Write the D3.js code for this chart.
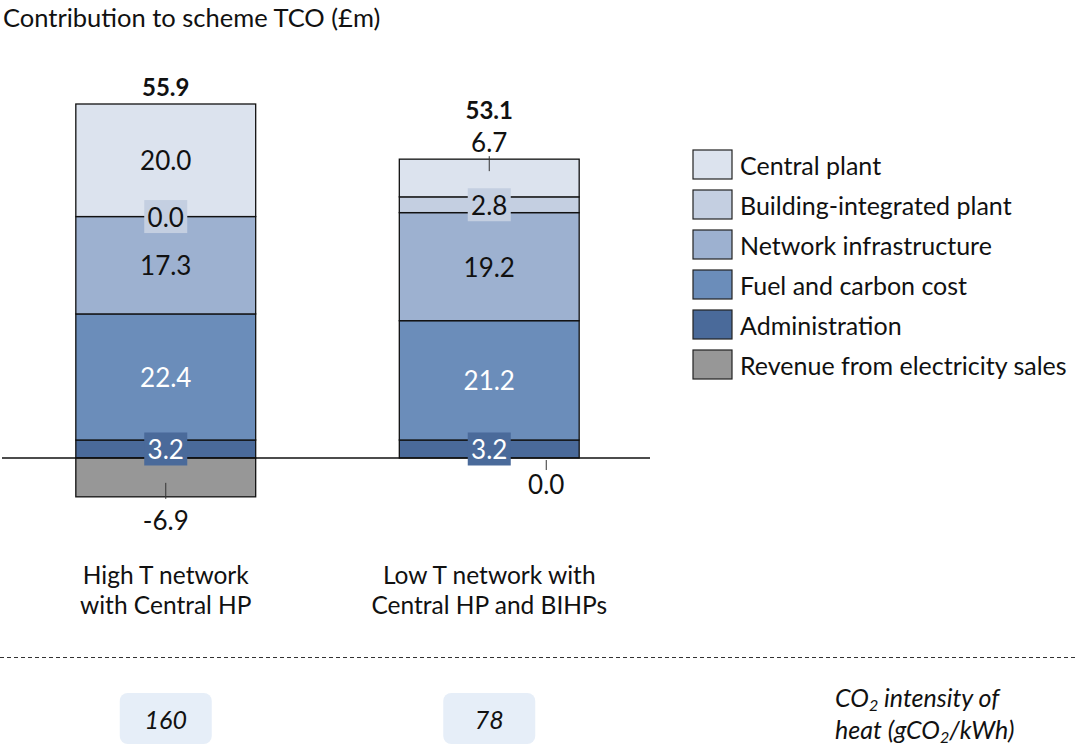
<!DOCTYPE html>
<html>
<head>
<meta charset="utf-8">
<script src="https://cdn.jsdelivr.net/npm/d3@7"></script>
<style>
  html, body { margin: 0; padding: 0; background: #fff; }
  svg { display: block; font-family: Lato, "Open Sans", sans-serif; }
</style>
</head>
<body>
<svg id="chart" width="1075" height="749"></svg>
<script>
// ---- Data ----
const categories = ["High T network with Central HP", "Low T network with Central HP and BIHPs"];
const categoryLines = [["High T network", "with Central HP"], ["Low T network with", "Central HP and BIHPs"]];
const seriesNames = ["Central plant", "Building-integrated plant", "Network infrastructure", "Fuel and carbon cost", "Administration", "Revenue from electricity sales"];
const centralPlant = [20.0, 6.7];
const buildingPlant = [0.0, 2.8];
const networkInfra = [17.3, 19.2];
const fuelCarbon = [22.4, 21.2];
const administration = [3.2, 3.2];
const revenue = [-6.9, 0.0];
const totals = [55.9, 53.1];
const co2Intensity = [160, 78];

// stacking order from the baseline upward
const stackOrder = [
  { name: "Administration", values: administration },
  { name: "Fuel and carbon cost", values: fuelCarbon },
  { name: "Network infrastructure", values: networkInfra },
  { name: "Building-integrated plant", values: buildingPlant },
  { name: "Central plant", values: centralPlant }
];

const colors = {
  "Central plant": "#DCE3EE",
  "Building-integrated plant": "#C4CFE1",
  "Network infrastructure": "#9DB1D0",
  "Fuel and carbon cost": "#6B8DBA",
  "Administration": "#4A6A9A",
  "Revenue from electricity sales": "#979797"
};
const whiteText = new Set(["Fuel and carbon cost", "Administration"]);
const boxedLabel = new Set(["Building-integrated plant", "Administration"]);

const svg = d3.select("#chart");

const x = d3.scaleBand().domain(categories).range([4, 651]).paddingInner(0.444).paddingOuter(0.222);
const y = d3.scaleLinear().domain([-10, 65]).range([458 + 10 * 5.628, 458 - 65 * 5.628]);

const fs = 26;

// title
svg.append("text").attr("x", 3).attr("y", 27).attr("font-size", 25.5).attr("fill", "#111")
  .text("Contribution to scheme TCO (£m)");

// build segments
const segs = [];
categories.forEach((c, i) => {
  let base = 0;
  stackOrder.forEach(s => {
    const v = s.values[i];
    segs.push({ cat: c, i, name: s.name, v, y0: base, y1: base + v });
    base += v;
  });
  segs.push({ cat: c, i, name: "Revenue from electricity sales", v: revenue[i], y0: 0, y1: revenue[i] });
});

const g = svg.append("g");
g.selectAll("rect.seg").data(segs).join("rect")
  .attr("class", "seg")
  .attr("x", d => x(d.cat))
  .attr("width", x.bandwidth())
  .attr("y", d => y(Math.max(d.y0, d.y1)))
  .attr("height", d => Math.abs(y(d.y0) - y(d.y1)))
  .attr("fill", d => colors[d.name])
  .attr("stroke", "#111").attr("stroke-width", 1.3);

// zero axis line
svg.append("line").attr("x1", 2).attr("x2", 650).attr("y1", y(0)).attr("y2", y(0))
  .attr("stroke", "#111").attr("stroke-width", 1.3);

// segment labels
segs.forEach(d => {
  const cx = x(d.cat) + x.bandwidth() / 2;
  const hpx = Math.abs(y(d.y0) - y(d.y1));
  const txt = d.v.toFixed(1);
  if (d.name === "Revenue from electricity sales") {
    const lx = d.v === 0 ? cx + 57 : cx;
    const ty = y(d.y1);
    svg.append("line").attr("x1", lx).attr("x2", lx)
      .attr("y1", d.v === 0 ? y(0) + 2 : ty - 14).attr("y2", d.v === 0 ? y(0) + 12 : ty + 2)
      .attr("stroke", "#333").attr("stroke-width", 1);
    svg.append("text").attr("x", lx).attr("y", (d.v === 0 ? y(0) + 26 : ty + 23))
      .attr("text-anchor", "middle").attr("dominant-baseline", "central")
      .attr("font-size", fs).attr("fill", "#111").text(txt);
    return;
  }
  if (d.name === "Central plant" && hpx < 45) {
    const top = y(d.y1);
    svg.append("line").attr("x1", cx).attr("x2", cx).attr("y1", top - 3).attr("y2", top + 12)
      .attr("stroke", "#333").attr("stroke-width", 1);
    svg.append("text").attr("x", cx).attr("y", top - 17)
      .attr("text-anchor", "middle").attr("dominant-baseline", "central")
      .attr("font-size", fs).attr("fill", "#111").text(txt);
    return;
  }
  const cy = y((d.y0 + d.y1) / 2);
  if (boxedLabel.has(d.name)) {
    svg.append("rect").attr("x", cx - 21.5).attr("y", cy - 16.5).attr("width", 43).attr("height", 33)
      .attr("fill", colors[d.name]);
  }
  svg.append("text").attr("x", cx).attr("y", cy)
    .attr("text-anchor", "middle").attr("dominant-baseline", "central")
    .attr("font-size", fs).attr("fill", whiteText.has(d.name) ? "#fff" : "#111").text(txt);
});

// totals
categories.forEach((c, i) => {
  const cx = x(c) + x.bandwidth() / 2;
  const top = y(d3.sum(stackOrder, s => s.values[i]));
  const hasOutside = Math.abs(y(0) - y(centralPlant[i])) < 45;
  svg.append("text").attr("x", cx).attr("y", hasOutside ? top - 50 : top - 17)
    .attr("text-anchor", "middle").attr("dominant-baseline", "central")
    .attr("font-size", 24).attr("font-weight", "bold").attr("fill", "#111")
    .text(totals[i].toFixed(1));
});

// category labels
categories.forEach((c, i) => {
  const cx = x(c) + x.bandwidth() / 2;
  const t = svg.append("text").attr("x", cx).attr("y", 584).attr("text-anchor", "middle")
    .attr("font-size", 24.5).attr("fill", "#111");
  categoryLines[i].forEach((ln, k) => t.append("tspan").attr("x", cx).attr("dy", k === 0 ? 0 : 30).text(ln));
});

// legend
const lg = svg.append("g").attr("transform", "translate(693,150)");
seriesNames.forEach((n, k) => {
  lg.append("rect").attr("x", 0).attr("y", k * 40).attr("width", 39).attr("height", 29)
    .attr("fill", colors[n]).attr("stroke", "#222").attr("stroke-width", 1.2);
  lg.append("text").attr("x", 47).attr("y", k * 40 + 15).attr("dominant-baseline", "central")
    .attr("font-size", 25).attr("fill", "#111").text(n);
});

// dashed separator
svg.append("line").attr("x1", 0).attr("x2", 1075).attr("y1", 657.5).attr("y2", 657.5)
  .attr("stroke", "#333").attr("stroke-width", 1).attr("stroke-dasharray", "4,3");

// CO2 intensity boxes
categories.forEach((c, i) => {
  const cx = x(c) + x.bandwidth() / 2;
  svg.append("rect").attr("x", cx - 46).attr("y", 693).attr("width", 92).attr("height", 51)
    .attr("rx", 8).attr("fill", "#E6EEF8");
  svg.append("text").attr("x", cx).attr("y", 719).attr("text-anchor", "middle")
    .attr("dominant-baseline", "central").attr("font-size", 25).attr("font-style", "italic")
    .attr("fill", "#111").text(co2Intensity[i]);
});

// CO2 label with subscripts (two separate lines)
function co2Line(yPos, pre, post) {
  const t = svg.append("text").attr("x", 835).attr("y", yPos)
    .attr("font-size", 25).attr("font-style", "italic").attr("fill", "#111");
  t.append("tspan").text(pre);
  t.append("tspan").attr("font-size", 16).attr("dy", 4).text("2");
  t.append("tspan").attr("dy", -4).text(post);
}
co2Line(707, "CO", " intensity of");
co2Line(739, "heat (gCO", "/kWh)");
</script>
</body>
</html>
